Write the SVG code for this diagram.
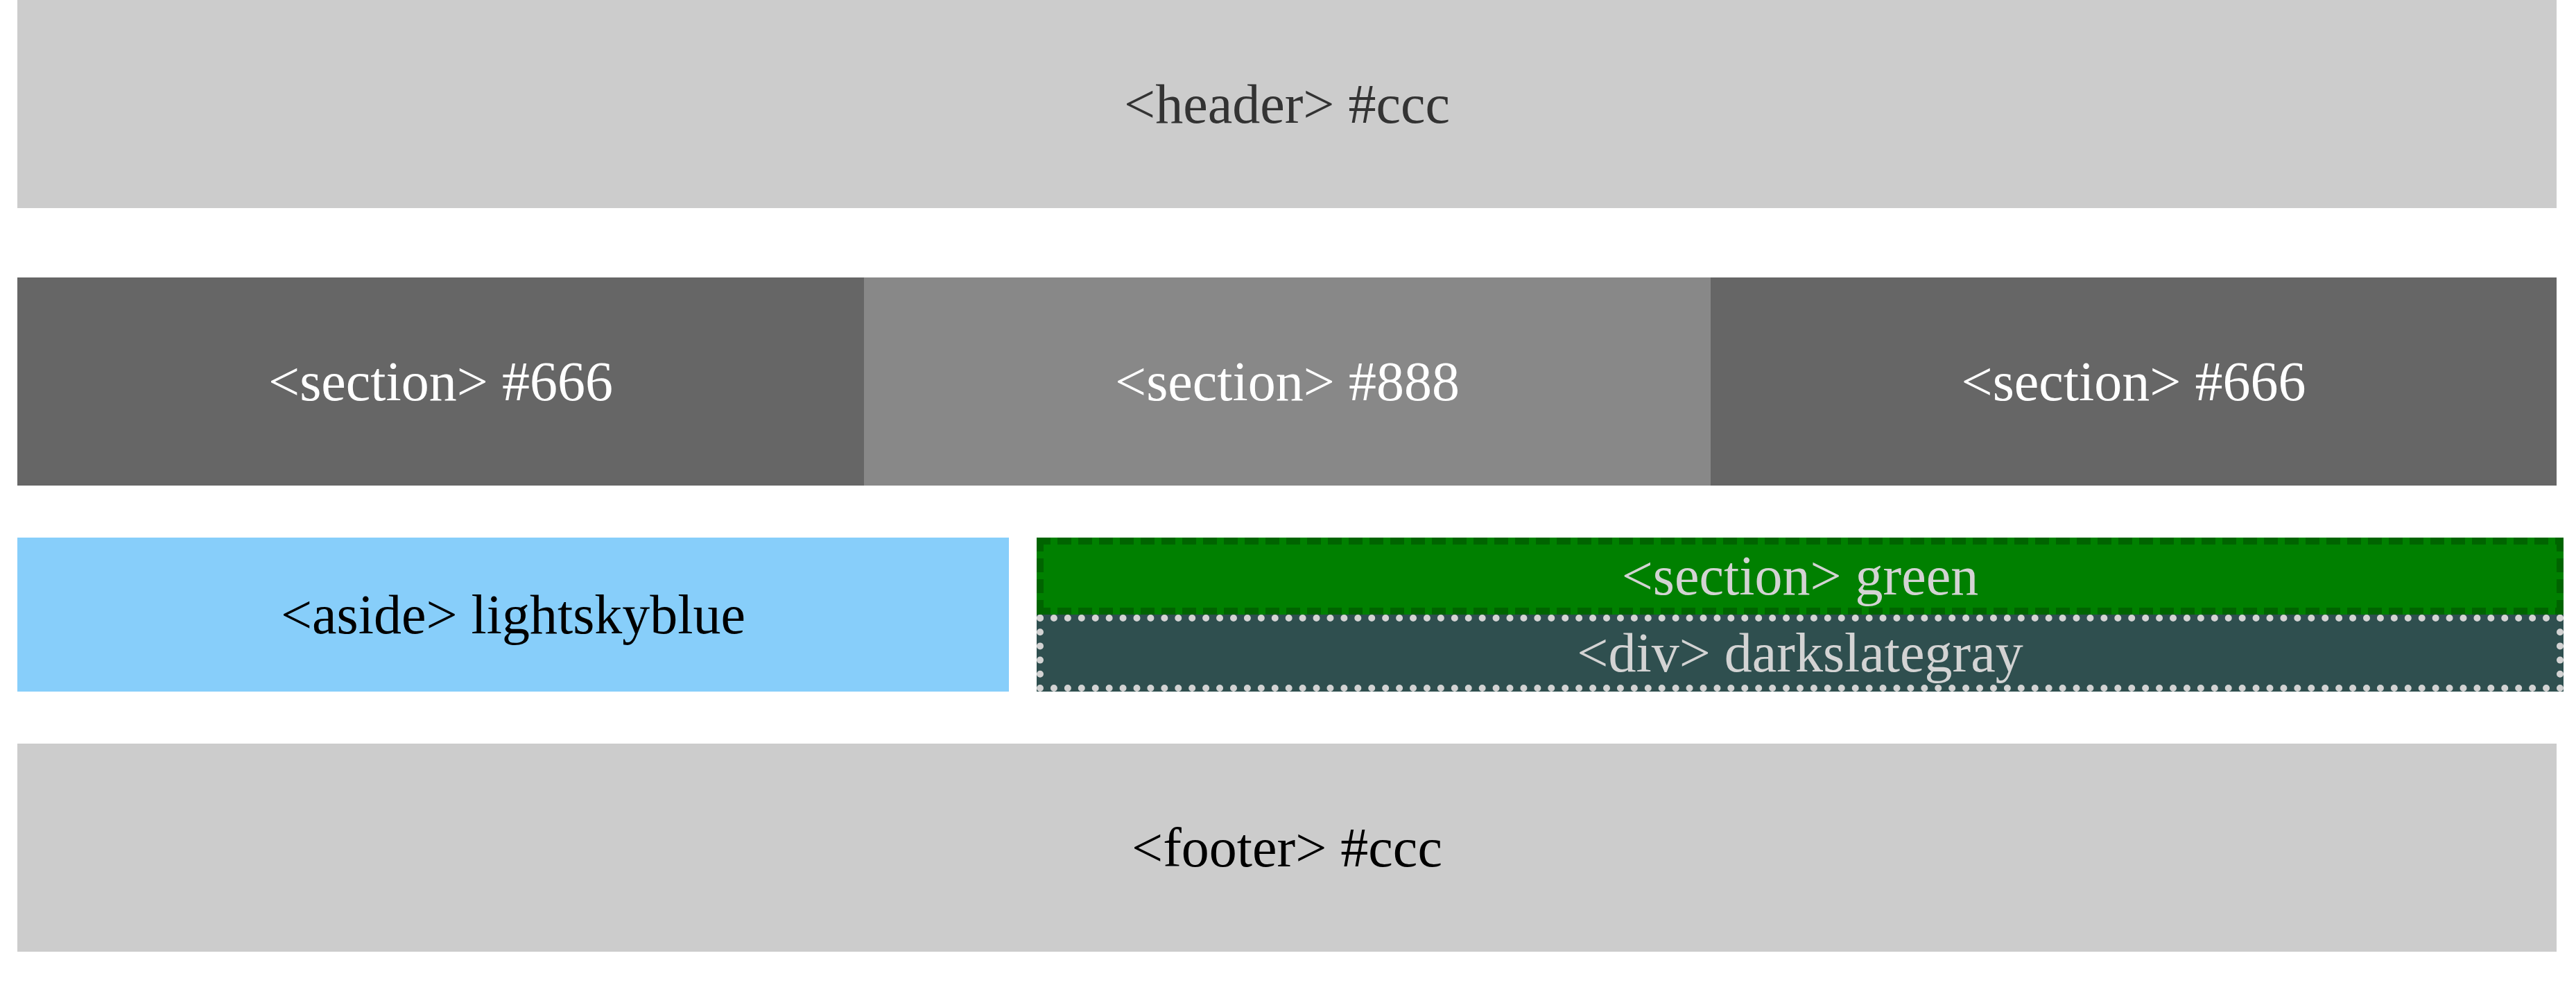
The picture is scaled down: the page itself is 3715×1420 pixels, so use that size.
<svg xmlns="http://www.w3.org/2000/svg" width="3715" height="1420" viewBox="0 0 3715 1420">
<style>
text{font-family:"Liberation Serif","Times New Roman",serif;font-size:80px;text-anchor:middle}
.dash{stroke:#006400;stroke-width:10;stroke-dasharray:20 10;fill:none}
.dot{stroke:#d3d3d3;stroke-width:10;stroke-linecap:round;fill:none}
</style>
<rect width="3715" height="1420" fill="#fff"/>
<g id="header"><rect x="25" y="0" width="3662" height="300" fill="#ccc"/><text x="1856" y="177" fill="#333">&lt;header&gt; #ccc</text></g>
<g id="section1"><rect x="25" y="400" width="1221" height="300" fill="#666"/><text x="635.5" y="577" fill="#fff">&lt;section&gt; #666</text></g>
<g id="section2"><rect x="1246" y="400" width="1221" height="300" fill="#888"/><text x="1856.5" y="577" fill="#fff">&lt;section&gt; #888</text></g>
<g id="section3"><rect x="2467" y="400" width="1220" height="300" fill="#666"/><text x="3077" y="577" fill="#fff">&lt;section&gt; #666</text></g>
<g id="aside"><rect x="25" y="775" width="1430" height="222" fill="#87cefa"/><text x="740" y="913" fill="#000">&lt;aside&gt; lightskyblue</text></g>
<g id="section-green"><rect x="1495" y="775" width="2202" height="111" fill="#008000"/>
<path class="dash" d="M1495 780H3697M1495 881H3697M1500 775V886M3692 775V886"/>
<text x="2596" y="857" fill="#d3d3d3">&lt;section&gt; green</text></g>
<g id="div-darkslategray"><rect x="1495" y="886" width="2202" height="111" fill="#2f4f4f"/>
<path class="dot" d="M1500 891H3692M1500 992H3692" stroke-dasharray="0 19.927"/>
<path class="dot" d="M1500 891V992M3692 891V992" stroke-dasharray="0 20.2"/>
<text x="2596" y="968" fill="#d3d3d3">&lt;div&gt; darkslategray</text></g>
<g id="footer"><rect x="25" y="1072" width="3662" height="300" fill="#ccc"/><text x="1856" y="1249" fill="#000">&lt;footer&gt; #ccc</text></g>
<g id="connectors"/>
</svg>
